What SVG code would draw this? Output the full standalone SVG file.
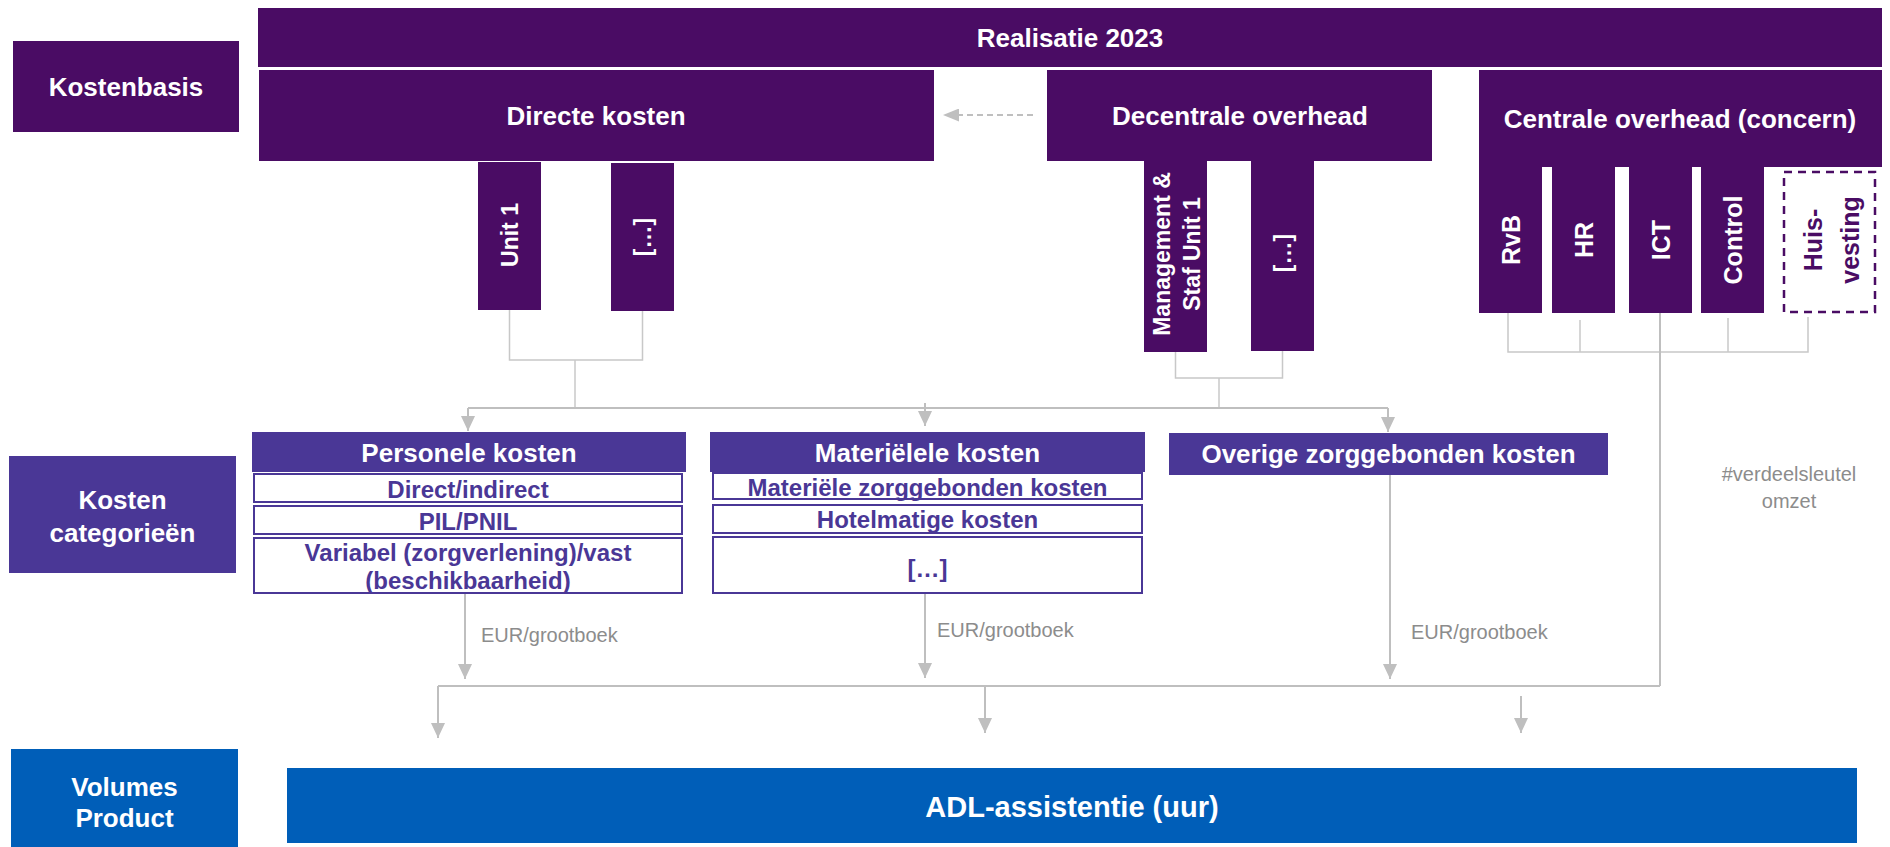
<svg xmlns="http://www.w3.org/2000/svg" width="1890" height="847" viewBox="0 0 1890 847">
<defs>
<style>
.dp{fill:#4a0c64}
.mp{fill:#4a3796}
.bl{fill:#005eb8}
.t{font-family:"Liberation Sans",Arial,sans-serif;font-weight:bold;text-anchor:middle;dominant-baseline:central}
.w{fill:#ffffff}
.big{font-size:26px}
.row{font-size:24px;fill:#4a3796}
.rowbox{fill:#ffffff;stroke:#4a3796;stroke-width:2}
.g{font-family:"Liberation Sans",Arial,sans-serif;font-size:20px;fill:#8c8c8c;dominant-baseline:central}
.ln{fill:none;stroke:#bfbfbf;stroke-width:2}
.br{fill:none;stroke:#c8c8c8;stroke-width:1.5}
</style>
<marker id="ah" markerWidth="15" markerHeight="14" refX="15" refY="7" orient="auto" markerUnits="userSpaceOnUse">
<path d="M0,0 L15,7 L0,14 z" fill="#bfbfbf"/>
</marker>
<marker id="ahs" markerWidth="16" markerHeight="13" refX="16" refY="6.5" orient="auto" markerUnits="userSpaceOnUse">
<path d="M0,0 L16,6.5 L0,13 z" fill="#bfbfbf"/>
</marker>
</defs>

<g id="connectors">
<path class="ln" d="M1033,115 L943,115" stroke-dasharray="6,4" marker-end="url(#ahs)"/>
<path class="br" d="M509.5,310 V360 H642.5 V311"/>
<path class="br" d="M575,360 V408"/>
<path class="br" d="M1175.5,352 V378 H1282.5 V351"/>
<path class="br" d="M1219,378 V408"/>
<path class="br" d="M1508,313 V352 H1808 V317"/>
<path class="br" d="M1580,320 V352"/>
<path class="br" d="M1728,318 V352"/>
<path class="ln" d="M468,408 H1388"/>
<path class="ln" d="M468,408 V431" marker-end="url(#ah)"/>
<path class="ln" d="M925,403 V426" marker-end="url(#ah)"/>
<path class="ln" d="M1388,408 V432" marker-end="url(#ah)"/>
<path class="ln" d="M1660,313 V686"/>
<path class="ln" d="M465,594 V679" marker-end="url(#ah)"/>
<path class="ln" d="M925,588 V678" marker-end="url(#ah)"/>
<path class="ln" d="M1390,475 V679" marker-end="url(#ah)"/>
<path class="ln" d="M438,686 H1660"/>
<path class="ln" d="M438,686 V738" marker-end="url(#ah)"/>
<path class="ln" d="M985,686 V733" marker-end="url(#ah)"/>
<path class="ln" d="M1521,696 V733" marker-end="url(#ah)"/>
<text class="g" x="481" y="635">EUR/grootboek</text>
<text class="g" x="937" y="630">EUR/grootboek</text>
<text class="g" x="1411" y="632">EUR/grootboek</text>
<text class="g" x="1789" y="474" text-anchor="middle" font-size="21">#verdeelsleutel</text>
<text class="g" x="1789" y="501" text-anchor="middle" font-size="21">omzet</text>
</g>

<g id="kostenbasis">
<rect class="dp" x="13" y="41" width="226" height="91"/>
<text class="t w big" x="126" y="87">Kostenbasis</text>
</g>

<g id="realisatie">
<rect class="dp" x="258" y="8" width="1624" height="59"/>
<text class="t w big" x="1070" y="38">Realisatie 2023</text>
</g>

<g id="directe-kosten">
<rect class="dp" x="259" y="70" width="675" height="91"/>
<text class="t w big" x="596" y="116">Directe kosten</text>
</g>
<g id="unit1">
<rect class="dp" x="478" y="162" width="63" height="148"/>
<text class="t w" font-size="23" transform="translate(509.5,235) rotate(-90)">Unit 1</text>
</g>
<g id="unit-etc">
<rect class="dp" x="611" y="163" width="63" height="148"/>
<text class="t w" font-size="23" transform="translate(642.5,237) rotate(-90)">[…]</text>
</g>

<g id="decentrale-overhead">
<rect class="dp" x="1047" y="70" width="385" height="91"/>
<text class="t w big" x="1240" y="116">Decentrale overhead</text>
</g>
<g id="management-staf">
<rect class="dp" x="1144" y="160" width="63" height="192"/>
<text class="t w" font-size="23" transform="translate(1177,254) rotate(-90)"><tspan x="0" y="-15">Management &amp;</tspan><tspan x="0" y="15">Staf Unit 1</tspan></text>
</g>
<g id="decentrale-etc">
<rect class="dp" x="1251" y="160" width="63" height="191"/>
<text class="t w" font-size="23" transform="translate(1282.5,253) rotate(-90)">[…]</text>
</g>

<g id="centrale-overhead">
<rect class="dp" x="1479" y="70" width="403" height="97"/>
<text class="t w big" x="1680" y="119">Centrale overhead (concern)</text>
</g>
<g id="rvb">
<rect class="dp" x="1479" y="166" width="63" height="147"/>
<text class="t w" font-size="25" transform="translate(1511,240) rotate(-90)">RvB</text>
</g>
<g id="hr">
<rect class="dp" x="1552" y="166" width="63" height="147"/>
<text class="t w" font-size="25" transform="translate(1584,240) rotate(-90)">HR</text>
</g>
<g id="ict">
<rect class="dp" x="1629" y="166" width="63" height="147"/>
<text class="t w" font-size="25" transform="translate(1661,240) rotate(-90)">ICT</text>
</g>
<g id="control">
<rect class="dp" x="1701" y="166" width="63" height="147"/>
<text class="t w" font-size="25" transform="translate(1733,240) rotate(-90)">Control</text>
</g>
<g id="huisvesting">
<rect x="1784" y="172" width="91" height="140" fill="#ffffff" stroke="#4a0c64" stroke-width="2.5" stroke-dasharray="8,6"/>
<text class="t" fill="#4a0c64" font-size="25" transform="translate(1831,240) rotate(-90)"><tspan x="0" y="-18.5">Huis-</tspan><tspan x="0" y="18.5">vesting</tspan></text>
</g>

<g id="kosten-categorieen">
<rect class="mp" x="9" y="456" width="227" height="117"/>
<text class="t w big" x="122.5" y="500">Kosten</text>
<text class="t w big" x="122.5" y="533">categorieën</text>
</g>

<g id="personele-kosten">
<rect class="mp" x="252" y="432" width="434" height="40"/>
<text class="t w big" x="469" y="453">Personele kosten</text>
<rect class="rowbox" x="254" y="474" width="428" height="28"/>
<text class="t row" x="468" y="489">Direct/indirect</text>
<rect class="rowbox" x="254" y="506" width="428" height="28"/>
<text class="t row" x="468" y="521">PIL/PNIL</text>
<rect class="rowbox" x="254" y="538" width="428" height="55"/>
<text class="t row" x="468" y="552">Variabel (zorgverlening)/vast</text>
<text class="t row" x="468" y="580">(beschikbaarheid)</text>
</g>

<g id="materiele-kosten">
<rect class="mp" x="710" y="432" width="435" height="40"/>
<text class="t w big" x="927.5" y="453">Materiëlele kosten</text>
<rect class="rowbox" x="713" y="473" width="429" height="26"/>
<text class="t row" x="927.5" y="487">Materiële zorggebonden kosten</text>
<rect class="rowbox" x="713" y="505" width="429" height="28"/>
<text class="t row" x="927.5" y="519">Hotelmatige kosten</text>
<rect class="rowbox" x="713" y="537" width="429" height="56"/>
<text class="t row" x="927.5" y="568">[…]</text>
</g>

<g id="overige-kosten">
<rect class="mp" x="1169" y="433" width="439" height="42"/>
<text class="t w big" x="1388.5" y="454">Overige zorggebonden kosten</text>
</g>

<g id="volumes-product">
<rect class="bl" x="11" y="749" width="227" height="98"/>
<text class="t w big" x="124.5" y="787">Volumes</text>
<text class="t w big" x="124.5" y="818">Product</text>
</g>

<g id="adl-assistentie">
<rect class="bl" x="287" y="768" width="1570" height="75"/>
<text class="t w" font-size="29" x="1072" y="807">ADL-assistentie (uur)</text>
</g>
</svg>
